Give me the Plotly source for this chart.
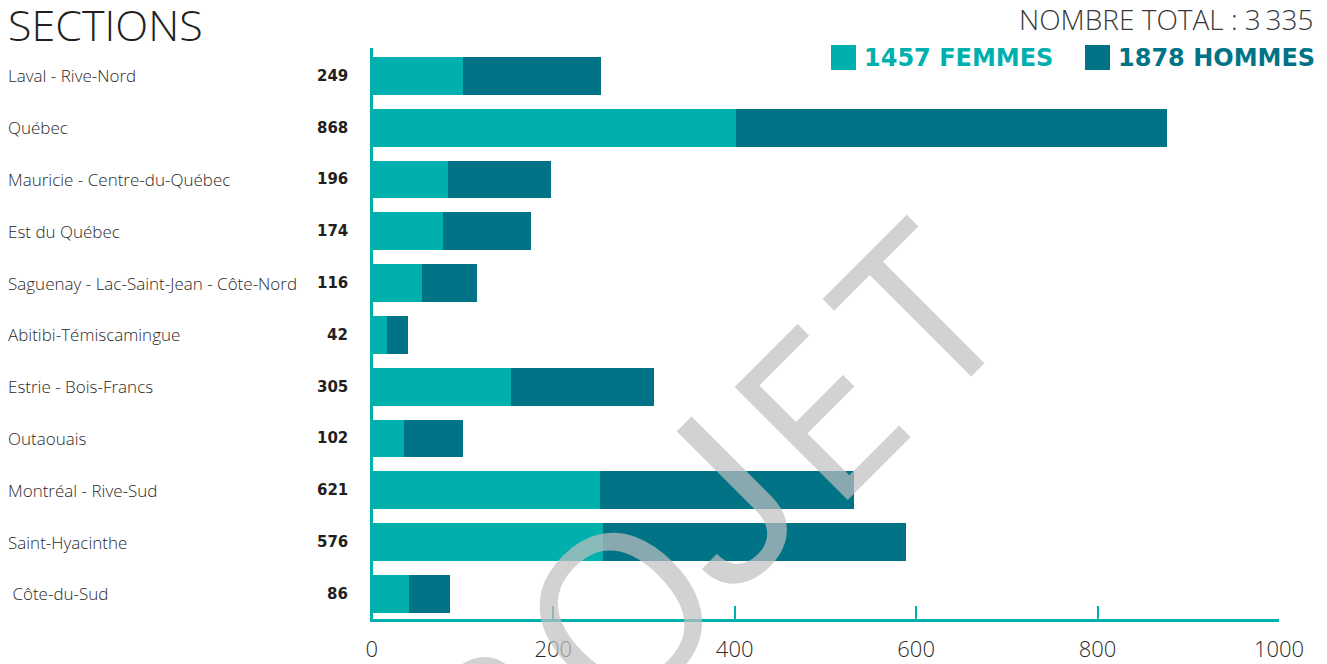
import plotly.graph_objects as go

# ---------------- data ----------------
categories = ["Laval - Rive-Nord", "Québec", "Mauricie - Centre-du-Québec", "Est du Québec",
              "Saguenay - Lac-Saint-Jean - Côte-Nord", "Abitibi-Témiscamingue",
              "Estrie - Bois-Francs", "Outaouais", "Montréal - Rive-Sud",
              "Saint-Hyacinthe", "\u00a0Côte-du-Sud"]
femmes = [101, 401, 84, 78, 55, 17, 153, 36, 251, 255, 41]
hommes = [152, 476, 114, 98, 61, 23, 158, 65, 281, 334, 45]
totaux = [249, 868, 196, 174, 116, 42, 305, 102, 621, 576, 86]
x_ticks = [0, 200, 400, 600, 800, 1000]
total_femmes = 1457
total_hommes = 1878
total_general = "3\u2009335"
watermark_letters = ["P", "R", "O", "J", "E", "T"]

# ---------------- style ----------------
TEAL = "#00B0AD"
DARK = "#007486"
TXT = "#2a2a2a"
OFF = 8                       # page body margin
SCR_W, SCR_H = 1327, 664
FIG_W, FIG_H = SCR_W - OFF, SCR_H - OFF
# plot area in screen pixels
PL, PR, PT, PB = 370, 1279, 48, 619
L, R, T, B = PL - OFF, SCR_W - PR, PT - OFF, SCR_H - PB
PW, PH = PR - PL, PB - PT

def px(x):
    return (x - PL) / PW

def py(y):
    return (PB - y) / PH

light = dict(family="Open Sans", weight=300, color=TXT)

fig = go.Figure()
fig.add_trace(go.Bar(y=categories, x=femmes, orientation="h", name="Femmes",
                     marker=dict(color=TEAL, line=dict(width=0)), hoverinfo="x+y"))
fig.add_trace(go.Bar(y=categories, x=hommes, orientation="h", name="Hommes",
                     marker=dict(color=DARK, line=dict(width=0)), hoverinfo="x+y"))

ann = []
for cat, tot in zip(categories, totaux):
    ann.append(dict(x=px(7), y=cat, xref="paper", yref="y", text=cat, showarrow=False,
                    xanchor="left", yanchor="middle", borderpad=0,
                    font=dict(light, size=17)))
    ann.append(dict(x=px(349), y=cat, xref="paper", yref="y", text=f"<b>{tot}</b>",
                    showarrow=False, xanchor="right", yanchor="middle", borderpad=0,
                    font=dict(family="DejaVu Sans", size=15, color="#231f20")))

# title and total
ann.append(dict(x=px(7), y=py(25), xref="paper", yref="paper", text="SECTIONS",
                showarrow=False, xanchor="left", yanchor="middle", borderpad=0,
                font=dict(light, size=43, color="#231f20")))
ann.append(dict(x=px(1314), y=py(18.5), xref="paper", yref="paper",
                text=f"NOMBRE TOTAL : {total_general}",
                showarrow=False, xanchor="right", yanchor="middle", borderpad=0,
                font=dict(light, size=28, color="#3a3a3a")))

# custom legend
shapes = []
legend_items = [(f"<b>{total_femmes} FEMMES</b>", TEAL, 831),
                (f"<b>{total_hommes} HOMMES</b>", DARK, 1085)]
for text, col, x0 in legend_items:
    shapes.append(dict(type="rect", xref="paper", yref="paper",
                       x0=px(x0), x1=px(x0 + 25), y0=py(70), y1=py(45),
                       fillcolor=col, line=dict(width=0)))
    ann.append(dict(x=px(x0 + 32), y=py(58.5), xref="paper", yref="paper", text=text,
                    showarrow=False, xanchor="left", yanchor="middle", borderpad=0,
                    font=dict(family="DejaVu Sans", size=24, color=col)))

# watermark "PROJET" (rotated 45°): letter positions along the reading axis (u)
wm_u = [-305, -165, 5, 150, 286, 430]
wm_font = ["Open Sans", "Open Sans", "Open Sans", "Roboto", "Open Sans", "Open Sans"]
cap_mid = 1233.5
for letter, u, fam in zip(watermark_letters, wm_u, wm_font):
    cx = (cap_mid + 1.41421 * u) / 2 - 4
    cy = (cap_mid - 1.41421 * u) / 2 - 4
    ann.append(dict(x=px(cx), y=py(cy), xref="paper", yref="paper", text=letter,
                    showarrow=False, xanchor="center", yanchor="middle", textangle=-45,
                    borderpad=0,
                    font=dict(family=fam, weight=400, size=224,
                              color="rgba(191,191,191,0.71)")))

fig.update_layout(
    width=FIG_W, height=FIG_H,
    margin=dict(l=L, r=R, t=T, b=B, pad=0, autoexpand=False),
    paper_bgcolor="white", plot_bgcolor="white",
    barmode="stack", bargap=0.27, showlegend=False,
    annotations=ann, shapes=shapes,
    xaxis=dict(range=[-2, 1000], tickvals=x_ticks, showgrid=False, automargin=False,
               zeroline=True, zerolinecolor=TEAL, zerolinewidth=3,
               showline=True, linecolor=TEAL, linewidth=3,
               ticks="inside", ticklen=13, tickwidth=2, tickcolor=TEAL,
               ticklabelstandoff=9,
               tickfont=dict(family="Open Sans", weight=300, size=22, color=TXT)),
    yaxis=dict(type="category", categoryorder="array", categoryarray=categories,
               range=[10.486, -0.537], showgrid=False, zeroline=False, automargin=False,
               showline=False, showticklabels=False, ticks=""),
)

fig.write_html("out.html")
